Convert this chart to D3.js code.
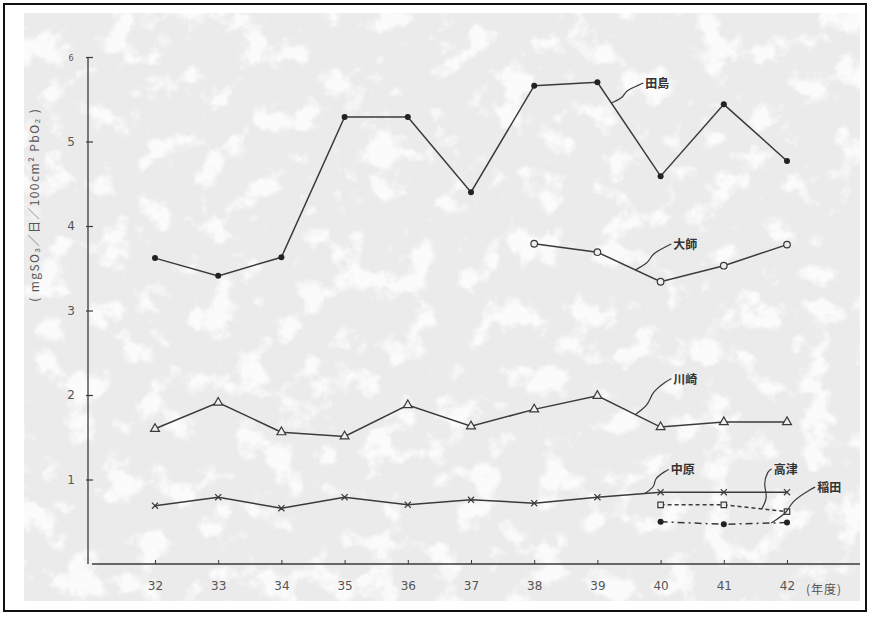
<!DOCTYPE html>
<html>
<head>
<meta charset="utf-8">
<script src="https://cdn.jsdelivr.net/npm/d3@7"></script>
<style>
    body { margin: 0; background: #fff; }
    text { font-family: "DejaVu Sans", sans-serif; }
    .jp { font-family: "Noto Sans CJK JP", sans-serif; }
</style>
</head>
<body>
<div id="chart"></div>
<script>
// x axis: fiscal year (Showa)
const years = [32, 33, 34, 35, 36, 37, 38, 39, 40, 41, 42];
const yTicks = [1, 2, 3, 4, 5, 6];

// sulfation rate, mgSO3/day/100cm2 PbO2
const tajimaValues = [3.62, 3.41, 3.63, 5.29, 5.29, 4.40, 5.66, 5.70, 4.59, 5.44, 4.77];
const daishiYears = [38, 39, 40, 41, 42];
const daishiValues = [3.79, 3.69, 3.34, 3.53, 3.78];
const kawasakiValues = [1.60, 1.91, 1.56, 1.51, 1.88, 1.63, 1.83, 1.99, 1.62, 1.68, 1.68];
const nakaharaValues = [0.69, 0.79, 0.66, 0.79, 0.70, 0.76, 0.72, 0.79, 0.85, 0.85, 0.85];
const takatsuYears = [40, 41, 42];
const takatsuValues = [0.70, 0.70, 0.62];
const inadaYears = [40, 41, 42];
const inadaValues = [0.50, 0.47, 0.49];

const series = [
    {name: "田島", years: years, values: tajimaValues, marker: "dot", dash: null},
    {name: "大師", years: daishiYears, values: daishiValues, marker: "ring", dash: null},
    {name: "川崎", years: years, values: kawasakiValues, marker: "tri", dash: null},
    {name: "中原", years: years, values: nakaharaValues, marker: "cross", dash: null},
    {name: "高津", years: takatsuYears, values: takatsuValues, marker: "square", dash: "4,3"},
    {name: "稲田", years: inadaYears, values: inadaValues, marker: "dot", dash: "7,4,2,4"}
];

// label callouts: where the leader touches the line (between year and year+1) and label offset
const callouts = [
    {name: "田島", year: 39, t: 0.22, dx: 30, dy: -20},
    {name: "大師", year: 39, t: 0.6, dx: 34, dy: -26},
    {name: "川崎", year: 39, t: 0.6, dx: 34, dy: -36},
    {name: "中原", year: 39, t: 0.75, dx: 22, dy: -24},
    {name: "高津", year: 41, t: 0.6, dx: 8, dy: -40},
    {name: "稲田", year: 41, t: 0.75, dx: 42, dy: -36}
];

const W = 871, H = 617;
const svg = d3.select("#chart").append("svg")
    .attr("width", W)
    .attr("height", H);

// scanned paper look
const defs = svg.append("defs");
const f = defs.append("filter").attr("id", "mottle")
    .attr("x", 0).attr("y", 0).attr("width", "100%").attr("height", "100%");
f.append("feTurbulence")
    .attr("type", "fractalNoise")
    .attr("baseFrequency", "0.03")
    .attr("numOctaves", 4)
    .attr("seed", 11);
f.append("feColorMatrix")
    .attr("type", "matrix")
    .attr("values", "0 0 0 0 1  0 0 0 0 1  0 0 0 0 1  6 0 0 0 -3.2");

svg.append("rect")
    .attr("x", 4).attr("y", 4)
    .attr("width", 862).attr("height", 607)
    .attr("fill", "#fff")
    .attr("stroke", "#111")
    .attr("stroke-width", 2);

svg.append("rect")
    .attr("x", 24).attr("y", 13)
    .attr("width", 836).attr("height", 588)
    .attr("fill", "#ebebeb");

svg.append("rect")
    .attr("x", 24).attr("y", 13)
    .attr("width", 836).attr("height", 588)
    .attr("filter", "url(#mottle)")
    .attr("opacity", 0.8);

const x = d3.scaleLinear().domain([32, 42]).range([155, 787]);
const y = d3.scaleLinear().domain([0, 6]).range([564, 57]);

const ink = "#3a3a3a";

// y axis
svg.append("line")
    .attr("x1", 88).attr("x2", 88)
    .attr("y1", y(6)).attr("y2", y(0))
    .attr("stroke", ink).attr("stroke-width", 1.3);

const yAxis = svg.append("g")
    .attr("transform", "translate(86,0)")
    .call(d3.axisRight(y).tickValues(yTicks).tickSize(7).tickFormat(""));
yAxis.select(".domain").remove();
yAxis.selectAll(".tick line").attr("stroke", ink).attr("stroke-width", 1.2);

svg.selectAll(".ylab")
    .data(yTicks)
    .enter().append("text")
    .attr("class", "ylab")
    .attr("x", 71)
    .attr("y", d => y(d) + 4)
    .attr("text-anchor", "middle")
    .attr("font-size", d => d === 6 ? 8 : 12)
    .attr("fill", "#555")
    .text(d => d);

svg.append("text")
    .attr("transform", `translate(39,${y(4.25)}) rotate(-90)`)
    .attr("text-anchor", "middle")
    .attr("font-size", 12)
    .attr("letter-spacing", 1.4)
    .attr("fill", "#555")
    .attr("class", "jp")
    .text("( mgSO₃／日／100cm² PbO₂ )");

// x axis
svg.append("line")
    .attr("x1", 92).attr("x2", 860)
    .attr("y1", y(0)).attr("y2", y(0))
    .attr("stroke", ink).attr("stroke-width", 1.3);

const xAxis = svg.append("g")
    .attr("transform", `translate(0,${y(0)})`)
    .call(d3.axisBottom(x).tickValues(years).tickSizeInner(-4).tickSizeOuter(0)
        .tickPadding(17).tickFormat(d => d));
xAxis.select(".domain").remove();
xAxis.selectAll(".tick line").attr("stroke", ink);
xAxis.selectAll(".tick text")
    .attr("font-size", 12)
    .attr("fill", "#555")
    .attr("font-family", "DejaVu Sans");

svg.append("text")
    .attr("class", "jp")
    .attr("x", x(42) + 19)
    .attr("y", y(0) + 30)
    .attr("font-size", 12)
    .attr("letter-spacing", 1)
    .attr("fill", "#555")
    .text("(年度)");

// lines
const line = d3.line()
    .x(d => x(d[0]))
    .y(d => y(d[1]));

series.forEach(s => {
    let pts = s.years.map((yr, i) => [yr, s.values[i]]);
    svg.append("path")
        .datum(pts)
        .attr("d", line)
        .attr("fill", "none")
        .attr("stroke", ink)
        .attr("stroke-width", 1.5)
        .attr("stroke-dasharray", s.dash);

    let g = svg.append("g");
    pts.forEach(p => {
        let px = x(p[0]), py = y(p[1]);
        if (s.marker === "dot") {
            g.append("circle").attr("cx", px).attr("cy", py).attr("r", 3)
                .attr("fill", "#222");
        } else if (s.marker === "ring") {
            g.append("circle").attr("cx", px).attr("cy", py).attr("r", 3.3)
                .attr("fill", "#eee").attr("stroke", ink).attr("stroke-width", 1.2);
        } else {
            let sym = {tri: d3.symbolTriangle, cross: d3.symbolX, square: d3.symbolSquare}[s.marker];
            let size = {tri: 34, cross: 26, square: 30}[s.marker];
            g.append("path")
                .attr("transform", `translate(${px},${py})`)
                .attr("d", d3.symbol(sym, size))
                .attr("fill", s.marker === "cross" ? "none" : "#eee")
                .attr("stroke", ink)
                .attr("stroke-width", 1.2);
        }
    });
});

// wavy leaders + labels
const wave = d3.line().curve(d3.curveBasis);
callouts.forEach(c => {
    let s = series.find(d => d.name === c.name);
    let i = s.years.indexOf(c.year);
    let v = s.values[i] + (s.values[i + 1] - s.values[i]) * c.t;
    let ax = x(c.year + c.t), ay = y(v);
    let lx = ax + c.dx, ly = ay + c.dy;
    let pts = [
        [ax, ay],
        [ax + c.dx * 0.3 + 4, ay + c.dy * 0.3],
        [ax + c.dx * 0.55 - 3, ay + c.dy * 0.6],
        [lx - 2, ly + 2],
        [lx + 2, ly]
    ];
    svg.append("path")
        .attr("d", wave(pts))
        .attr("fill", "none")
        .attr("stroke", ink)
        .attr("stroke-width", 1.2);
    svg.append("text")
        .attr("class", "jp")
        .attr("x", lx + 4)
        .attr("y", ly + 5)
        .attr("font-size", 12)
        .attr("font-weight", "bold")
        .attr("fill", "#333")
        .text(c.name);
});
</script>
</body>
</html>
